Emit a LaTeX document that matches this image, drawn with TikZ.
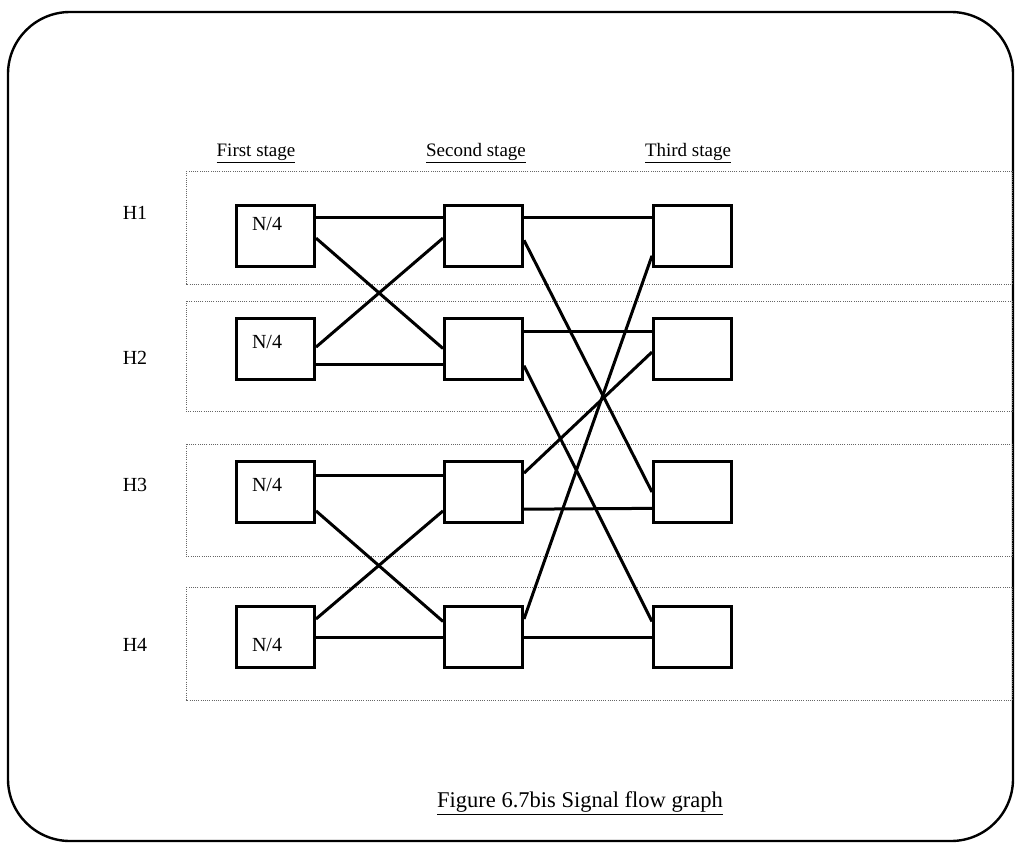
\documentclass[tikz,border=0pt]{standalone}
\usepackage{fontspec}
\setmainfont{Liberation Serif}
\usetikzlibrary{positioning}

\begin{document}
\begin{tikzpicture}[x=1pt,y=-1pt,
  stagebox/.style={draw,line width=3pt,minimum width=78pt,minimum height=61pt,inner sep=0pt},
  band/.style={draw=black!60,line width=0.9pt,dash pattern=on 1pt off 1.2pt},
  wire/.style={line width=3pt},
  lbl/.style={font=\fontsize{20}{24}\selectfont},
  hdr/.style={font=\fontsize{19}{23}\selectfont}]
\useasboundingbox (0,0) rectangle (1015,843);
% outer frame
\draw[line width=2.4pt,rounded corners=62pt] (8,12) rectangle (1013,841);

% stage titles
\node[hdr] (hfirst)  at (256,153) {\underline{First stage}};
\node[hdr] (hsecond) at (476,153) {\underline{Second stage}};
\node[hdr] (hthird)  at (688,153) {\underline{Third stage}};

% dotted bands, one per group
\foreach \b/\top/\bot in {1/171/284, 2/301/411, 3/444/556, 4/587/700}
  \draw[band] (186,\top) rectangle (1012,\bot);

% boxes of the three stages
\foreach \r/\y/\ny/\hy in {1/236/224/213, 2/348.5/342/358, 3/492/485/485, 4/637/645/645}{
  \node[stagebox] (f\r) at (275.5,\y) {};
  \node[stagebox] (s\r) at (483.5,\y) {};
  \node[stagebox] (t\r) at (692.5,\y) {};
  \node[lbl] (n\r) at (267,\ny) {N/4};
  \node[lbl] (h\r) at (135,\hy) {H\r};
}

% first -> second stage
\draw[wire] (f1.24) -- (s1.156);
\draw[wire] (f1.-3) -- (s2.west);
\draw[wire] (s1.183) -- (f2.2);
\draw[wire] (f2.-22) -- (s2.202);
\draw[wire] (f3.22) -- (s3.158);
\draw[wire] (f3.-25) -- (s4.159);
\draw[wire] (s3.205) -- (f4.24);
\draw[wire] (f4.east) -- (s4.west);

% second -> third stage
\draw[wire] (s1.24) -- (t1.156);
\draw[wire] (s1.-6) -- (t3.west);
\draw[wire] (s4.24) -- (t1.206);
\draw[wire] (s2.23) -- (t2.157);
\draw[wire] (s2.-23) -- (t4.159);
\draw[wire] (s3.25) -- (t2.185);
\draw[wire] (s3.-23) -- (t3.202);
\draw[wire] (s4.east) -- (t4.west);

% caption
\node[font=\fontsize{22.5}{27}\selectfont] (cap) at (580,803) {\underline{Figure 6.7bis Signal flow graph}};
\end{tikzpicture}
\end{document}
